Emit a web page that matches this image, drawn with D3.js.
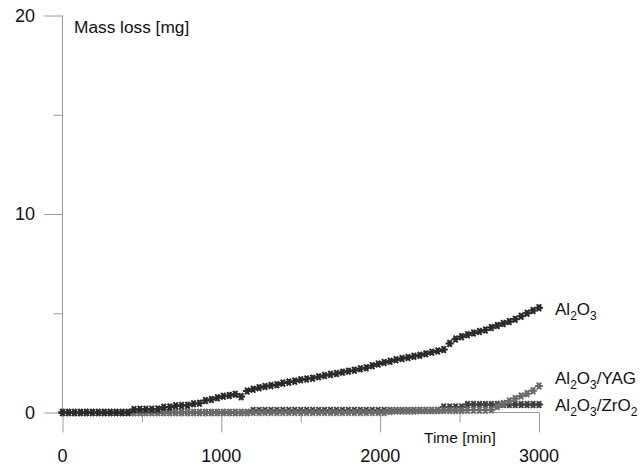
<!DOCTYPE html>
<html>
<head>
<meta charset="utf-8">
<script src="https://cdn.jsdelivr.net/npm/d3@7/dist/d3.min.js"></script>
<style>
  html, body { margin: 0; padding: 0; background: #fff; }
  svg { display: block; font-family: "Liberation Sans", Arial, sans-serif; }
</style>
</head>
<body>
<svg id="chart" width="640" height="466"></svg>
<script>
// ---- data ----
const times = [0, 37.5, 75, 112.5, 150, 187.5, 225, 262.5, 300, 337.5, 375, 412.5, 450, 487.5, 525, 562.5, 600, 637.5, 675, 712.5,
  750, 787.5, 825, 862.5, 900, 937.5, 975, 1012.5, 1050, 1087.5, 1125, 1162.5, 1200, 1237.5, 1275, 1312.5, 1350, 1387.5, 1425, 1462.5,
  1500, 1537.5, 1575, 1612.5, 1650, 1687.5, 1725, 1762.5, 1800, 1837.5, 1875, 1912.5, 1950, 1987.5, 2025, 2062.5, 2100, 2137.5, 2175, 2212.5,
  2250, 2287.5, 2325, 2362.5, 2400, 2437.5, 2475, 2512.5, 2550, 2587.5, 2625, 2662.5, 2700, 2737.5, 2775, 2812.5, 2850, 2887.5, 2925, 2962.5, 3000];

const al2o3 = [0, 0, 0, 0, 0, 0, 0, 0, 0, 0, 0, 0, 0.15, 0.16, 0.16, 0.16, 0.17, 0.26, 0.27, 0.34,
  0.35, 0.36, 0.44, 0.47, 0.60, 0.66, 0.74, 0.82, 0.86, 0.92, 0.80, 1.08, 1.17, 1.25, 1.31, 1.36, 1.40, 1.48, 1.53, 1.58,
  1.65, 1.69, 1.73, 1.80, 1.86, 1.92, 1.96, 2.03, 2.08, 2.13, 2.20, 2.25, 2.36, 2.44, 2.52, 2.58, 2.66, 2.72, 2.77, 2.83,
  2.88, 2.96, 3.04, 3.10, 3.17, 3.48, 3.70, 3.82, 3.92, 4.00, 4.08, 4.16, 4.28, 4.38, 4.48, 4.58, 4.70, 4.85, 5.00, 5.14, 5.28];

const al2o3Yag = [0, 0, 0, 0, 0, 0, 0, 0, 0, 0, 0, 0, 0, 0, 0, 0, 0, 0, 0, 0,
  0, 0, 0, 0, 0, 0, 0, 0, 0, 0, 0, 0, 0, 0, 0, 0, 0, 0, 0, 0,
  0, 0, 0, 0, 0, 0, 0, 0, 0, 0, 0, 0, 0, 0, 0, 0.05, 0.08, 0.08, 0.08, 0.08,
  0.1, 0.1, 0.1, 0.1, 0.1, 0.1, 0.1, 0.1, 0.12, 0.12, 0.12, 0.12, 0.14, 0.30, 0.45, 0.58, 0.70, 0.83, 0.95, 1.10, 1.33];

const al2o3Zro2 = [0, 0, 0, 0, 0, 0, 0, 0, 0, 0, 0, 0, 0, 0, 0, 0, 0, 0, 0, 0,
  0, 0, 0, 0, 0, 0, 0, 0, 0, 0, 0, 0, 0.1, 0.1, 0.1, 0.1, 0.1, 0.1, 0.1, 0.1,
  0.1, 0.1, 0.1, 0.1, 0.1, 0.1, 0.1, 0.1, 0.1, 0.1, 0.1, 0.1, 0.1, 0.1, 0.1, 0.1, 0.1, 0.1, 0.1, 0.1,
  0.1, 0.1, 0.1, 0.1, 0.27, 0.27, 0.27, 0.27, 0.40, 0.40, 0.40, 0.40, 0.40, 0.40, 0.40, 0.40, 0.40, 0.40, 0.40, 0.40, 0.40];

const xMajorTicks = [0, 1000, 2000, 3000];
const xMinorTicks = [500, 1500, 2500];
const yMajorTicks = [0, 10, 20];
const yMinorTicks = [5, 15];

const seriesNames = [["Al", "2", "O", "3"], ["Al", "2", "O", "3", "/YAG"], ["Al", "2", "O", "3", "/ZrO", "2"]];

// ---- chart ----
const svg = d3.select("#chart");
const x = d3.scaleLinear().domain([0, 3000]).range([62.5, 539]);
const y = d3.scaleLinear().domain([0, 20]).range([412.5, 15.5]);

const axisColor = "#9a9a9a";

// y axis (ticks to the left)
const gy = svg.append("g").attr("transform", `translate(${x(0)},0)`);
gy.call(d3.axisLeft(y).tickValues(yMajorTicks).tickSize(18).tickFormat(""));
gy.append("g").call(d3.axisLeft(y).tickValues(yMinorTicks).tickSize(9).tickFormat(""));
gy.selectAll("path.domain").remove();
gy.selectAll("line").attr("stroke", axisColor);
gy.append("line").attr("x1", 0).attr("x2", 0).attr("y1", y(20)).attr("y2", y(0)).attr("stroke", axisColor);

// x axis (ticks downward)
const gx = svg.append("g").attr("transform", `translate(0,${y(0)})`);
gx.call(d3.axisBottom(x).tickValues(xMajorTicks).tickSize(20).tickFormat(""));
gx.append("g").call(d3.axisBottom(x).tickValues(xMinorTicks).tickSize(10).tickFormat(""));
gx.selectAll("path.domain").remove();
gx.selectAll("line").attr("stroke", axisColor);
gx.append("line").attr("x1", x(0)).attr("x2", x(3000)).attr("y1", 0).attr("y2", 0).attr("stroke", axisColor);

// tick labels
svg.append("g").selectAll("text").data(yMajorTicks).join("text")
  .attr("x", 35).attr("y", d => y(d)).attr("dy", "0.36em")
  .attr("text-anchor", "end").attr("font-size", 18).attr("fill", "#111")
  .text(d => d);
svg.append("g").selectAll("text").data(xMajorTicks).join("text")
  .attr("x", d => x(d)).attr("y", 462)
  .attr("text-anchor", "middle").attr("font-size", 18).attr("fill", "#111")
  .text(d => d);

// axis titles
svg.append("text").attr("x", 74).attr("y", 33).attr("font-size", 17.3).attr("fill", "#111").text("Mass loss [mg]");
svg.append("text").attr("x", 424).attr("y", 443).attr("font-size", 15.5).attr("fill", "#111").text("Time [min]");

// series
const series = [
  { values: al2o3Zro2, color: "#3e3e3e" },
  { values: al2o3Yag, color: "#6c6c6c" },
  { values: al2o3, color: "#2a2a2a" }
];
const sym = d3.symbol().type(d3.symbolAsterisk).size(46);
const sym2 = d3.symbol().type(d3.symbolCross).size(18);
series.forEach(s => {
  const g = svg.append("g");
  const pts = times.map((t, i) => [t, s.values[i]]);
  g.selectAll("path.a").data(pts).join("path").attr("class", "a")
    .attr("transform", d => `translate(${x(d[0])},${y(d[1])}) rotate(90)`)
    .attr("d", sym).attr("fill", "none").attr("stroke", s.color).attr("stroke-width", 2);
  g.selectAll("path.b").data(pts).join("path").attr("class", "b")
    .attr("transform", d => `translate(${x(d[0])},${y(d[1])})`)
    .attr("d", sym2).attr("fill", s.color);
});

// series labels with subscripts
const labelY = [315, 384, 411];
seriesNames.forEach((parts, k) => {
  const t = svg.append("text").attr("x", 555).attr("y", labelY[k]).attr("font-size", 17).attr("fill", "#111");
  parts.forEach((p, j) => {
    const sub = /^\d$/.test(p);
    const ts = t.append("tspan").text(p);
    if (sub) ts.attr("font-size", 12).attr("dy", 4.5);
    else if (j > 0) ts.attr("dy", -4.5);
  });
});
</script>
</body>
</html>
